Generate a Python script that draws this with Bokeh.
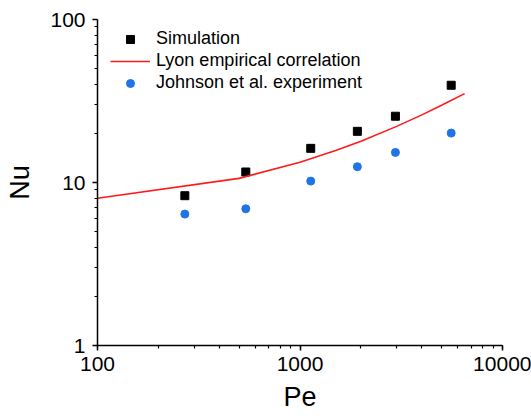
from bokeh.plotting import figure
from bokeh.models import Range1d, PrintfTickFormatter, Legend, LegendItem
from bokeh.embed import file_html
from bokeh.resources import INLINE

# Simulation (black squares)
sim_pe = [270, 540, 1130, 1920, 2960, 5580]
sim_nu = [8.3, 11.6, 16.2, 20.6, 25.5, 39.5]

# Johnson et al. experiment (blue circles)
exp_pe = [270, 540, 1130, 1920, 2960, 5580]
exp_nu = [6.4, 6.9, 10.2, 12.5, 15.3, 20.1]

# Lyon empirical correlation (red line)
lyon_pe = [100, 500, 1000, 1500, 2000, 3000, 4000, 5000, 6500]
lyon_nu = [8.0, 10.6, 13.3, 15.7, 17.9, 22.1, 26.0, 29.8, 35.1]

FONT = "Liberation Sans"

p = figure(width=531, height=416, x_axis_type="log", y_axis_type="log",
           x_range=Range1d(100, 10000), y_range=Range1d(1, 100),
           output_backend="svg", toolbar_location=None,
           min_border_left=97, min_border_right=29, min_border_top=19, min_border_bottom=71)

p.grid.visible = False
p.outline_line_color = None
p.background_fill_color = "white"
p.border_fill_color = "white"

for ax in (p.xaxis[0], p.yaxis[0]):
    ax.formatter = PrintfTickFormatter(format="%d")
    ax.axis_line_width = 1.5
    ax.axis_line_color = "black"
    ax.major_tick_line_color = "black"
    ax.minor_tick_line_color = "black"
    ax.major_tick_line_width = 1.5
    ax.minor_tick_line_width = 1.2
    ax.major_tick_in = 0
    ax.major_tick_out = 5
    ax.minor_tick_in = 0
    ax.minor_tick_out = 3
    ax.major_label_text_font = FONT
    ax.major_label_text_font_size = "21px"
    ax.major_label_text_color = "black"
    ax.axis_label_text_font = FONT
    ax.axis_label_text_font_size = "27px"
    ax.axis_label_text_font_style = "normal"
    ax.axis_label_text_color = "black"

p.xaxis.axis_label = "Pe"
p.yaxis.axis_label = "Nu"
p.xaxis.major_label_standoff = 6
p.yaxis.major_label_standoff = 7
p.xaxis.axis_label_standoff = 8
p.yaxis.axis_label_standoff = 12

r_sim = p.scatter(sim_pe, sim_nu, marker="square", size=8, color="black")
r_line = p.line(lyon_pe, lyon_nu, line_color="#ff1a1a", line_width=1.6)
r_exp = p.scatter(exp_pe, exp_nu, marker="circle", size=8, color="#1f74e6")

legend = Legend(items=[
    LegendItem(label="Simulation", renderers=[r_sim]),
    LegendItem(label="Lyon empirical correlation", renderers=[r_line]),
    LegendItem(label="Johnson et al. experiment", renderers=[r_exp]),
], location=(13, 252))
legend.border_line_color = None
legend.background_fill_alpha = 0
legend.padding = 0
legend.margin = 0
legend.spacing = 1
legend.glyph_width = 40
legend.glyph_height = 20
legend.label_height = 20
legend.label_standoff = 6
legend.label_text_font = FONT
legend.label_text_font_size = "18px"
legend.label_text_color = "black"
p.add_layout(legend, "center")

open("out.html", "w").write(file_html(p, INLINE))
